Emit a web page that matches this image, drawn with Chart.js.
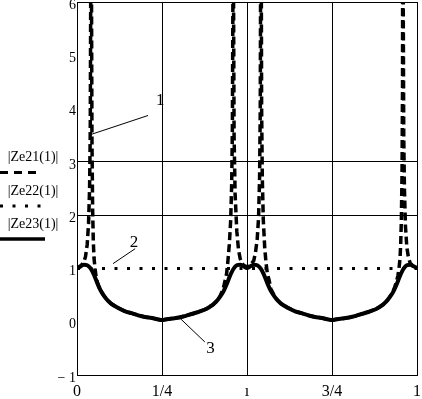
<!DOCTYPE html>
<html>
<head>
<meta charset="utf-8">
<script src="https://cdn.jsdelivr.net/npm/chart.js@4"></script>
<style>
html,body{margin:0;padding:0;background:#fff;}
#wrap{position:relative;width:422px;height:399px;}
</style>
</head>
<body>
<div id="wrap"><canvas id="c" width="422" height="399"></canvas></div>
<script>
// ---- data ----
const xTickValues = [0, 0.25, 0.5, 0.75, 1];
const xTickLabels = ['0', '1/4', 'ı', '3/4', '1'];
const yTickLabels = ['− 1', '0', '1', '2', '3', '4', '5', '6'];
const seriesNames = ['|Ze21(1)|', '|Ze22(1)|', '|Ze23(1)|'];

// |Ze21(1)| (dashed)
const ze21X = [0, 0.01, 0.02, 0.025, 0.03, 0.034, 0.037, 0.039, 0.0405, 0.0415, 0.0425, 0.044, 0.046, 0.048, 0.05, 0.053, 0.056, 0.06, 0.065, 0.07,
  0.08, 0.09, 0.10, 0.12, 0.14, 0.16, 0.18, 0.20, 0.22, 0.24, 0.25, 0.26, 0.28, 0.30, 0.32, 0.34, 0.36, 0.38, 0.40, 0.41, 0.42, 0.43,
  0.44, 0.444, 0.448, 0.452, 0.455, 0.457, 0.4585, 0.4595, 0.4605, 0.462, 0.465, 0.47, 0.475, 0.48, 0.485, 0.49, 0.50,
  0.51, 0.52, 0.525, 0.53, 0.534, 0.537, 0.539, 0.5403, 0.541, 0.5418, 0.543, 0.545, 0.548, 0.552, 0.556, 0.56, 0.565, 0.57, 0.58,
  0.59, 0.60, 0.62, 0.64, 0.66, 0.68, 0.70, 0.72, 0.74, 0.75, 0.76, 0.78, 0.80, 0.82, 0.84, 0.86, 0.88, 0.90, 0.91, 0.92,
  0.93, 0.935, 0.94, 0.944, 0.947, 0.95, 0.952, 0.954, 0.956, 0.9575, 0.9585, 0.9595, 0.961, 0.963, 0.966, 0.97, 0.975, 0.98, 0.99, 1.0];
const ze21Y = [1.00, 1.03, 1.12, 1.22, 1.45, 1.85, 2.5, 3.6, 6.5, 12, 6.5, 3.4, 2.1, 1.5, 1.2, 1.0, 0.85, 0.74, 0.64, 0.58,
  0.48, 0.40, 0.34, 0.26, 0.20, 0.16, 0.12, 0.09, 0.07, 0.04, 0.03, 0.04, 0.06, 0.08, 0.11, 0.15, 0.19, 0.24, 0.32, 0.38, 0.47, 0.62,
  0.9, 1.15, 1.45, 1.9, 2.6, 3.6, 6, 12, 6, 3.5, 2.4, 1.7, 1.35, 1.18, 1.1, 1.06, 1.03,
  1.06, 1.15, 1.3, 1.55, 1.95, 2.7, 4, 7, 12, 7, 4, 2.7, 1.9, 1.4, 1.1, 0.9, 0.78, 0.62, 0.49,
  0.40, 0.34, 0.26, 0.20, 0.16, 0.12, 0.09, 0.07, 0.04, 0.03, 0.04, 0.06, 0.08, 0.11, 0.15, 0.19, 0.24, 0.32, 0.38, 0.47,
  0.58, 0.66, 0.76, 0.87, 1.0, 1.18, 1.45, 1.9, 2.8, 4.5, 12, 6, 3.5, 2.5, 1.8, 1.4, 1.2, 1.1, 1.03, 1.0];

// |Ze22(1)| (dotted)
const ze22X = [0, 0.25, 0.5, 0.75, 1];
const ze22Y = [1, 1, 1, 1, 1];

// |Ze23(1)| (solid)
const ze23X = [0, 0.01, 0.02, 0.03, 0.04, 0.05, 0.06, 0.07, 0.08, 0.09, 0.10, 0.12, 0.14, 0.16, 0.18, 0.20, 0.22, 0.24, 0.25,
  0.26, 0.28, 0.30, 0.32, 0.34, 0.36, 0.38, 0.40, 0.41, 0.42, 0.43, 0.44, 0.45, 0.46, 0.47, 0.48, 0.49, 0.50,
  0.51, 0.52, 0.53, 0.54, 0.55, 0.56, 0.57, 0.58, 0.59, 0.60, 0.62, 0.64, 0.66, 0.68, 0.70, 0.72, 0.74, 0.75,
  0.76, 0.78, 0.80, 0.82, 0.84, 0.86, 0.88, 0.90, 0.91, 0.92, 0.93, 0.94, 0.95, 0.96, 0.97, 0.98, 0.99, 1.0];
const ze23Y = [1.00, 1.04, 1.07, 1.06, 1.00, 0.88, 0.72, 0.58, 0.48, 0.40, 0.34, 0.26, 0.20, 0.16, 0.12, 0.09, 0.07, 0.04, 0.03,
  0.04, 0.06, 0.08, 0.11, 0.15, 0.19, 0.24, 0.32, 0.38, 0.46, 0.56, 0.70, 0.86, 0.99, 1.06, 1.07, 1.04, 1.01,
  1.04, 1.07, 1.06, 1.00, 0.88, 0.72, 0.58, 0.48, 0.40, 0.34, 0.26, 0.20, 0.16, 0.12, 0.09, 0.07, 0.04, 0.03,
  0.04, 0.06, 0.08, 0.11, 0.15, 0.19, 0.24, 0.32, 0.38, 0.46, 0.56, 0.70, 0.86, 0.99, 1.06, 1.07, 1.04, 1.01];

// callout labels: [label, x0, y0, x1, y1, textX, textY] in data units
const callouts = [
  ['1', 0.044, 3.52, 0.209, 3.87, 0.245, 4.15],
  ['2', 0.106, 1.09, 0.171, 1.37, 0.168, 1.48],
  ['3', 0.303, 0.065, 0.376, -0.38, 0.393, -0.5]
];

const pts = (xs, ys) => xs.map((x, i) => ({x: x, y: ys[i]}));
const SERIF = '"Liberation Serif", "DejaVu Serif", serif';

const extras = {
  id: 'extras',
  afterDraw(chart) {
    const ctx = chart.ctx;
    const xs = chart.scales.x, ys = chart.scales.y;
    ctx.save();
    ctx.fillStyle = '#000';
    ctx.strokeStyle = '#000';
    // callouts
    ctx.lineWidth = 1;
    ctx.font = '17px ' + SERIF;
    ctx.textAlign = 'center';
    ctx.textBaseline = 'middle';
    callouts.forEach(c => {
      ctx.beginPath();
      ctx.moveTo(xs.getPixelForValue(c[1]), ys.getPixelForValue(c[2]));
      ctx.lineTo(xs.getPixelForValue(c[3]), ys.getPixelForValue(c[4]));
      ctx.stroke();
      ctx.fillText(c[0], xs.getPixelForValue(c[5]), ys.getPixelForValue(c[6]));
    });
    // legend (left side)
    ctx.font = '14px ' + SERIF;
    const rows = [
      {ty: 157, ly: 172.5, len: 37, dash: [8, 6], w: 3},
      {ty: 191, ly: 206, len: 42, dash: [3, 9.5], w: 3},
      {ty: 224, ly: 239, len: 45, dash: [], w: 3.5}
    ];
    rows.forEach((r, i) => {
      ctx.textAlign = 'center';
      ctx.fillText(seriesNames[i], 33, r.ty);
      ctx.beginPath();
      ctx.setLineDash(r.dash);
      ctx.lineWidth = r.w;
      ctx.lineCap = 'butt';
      ctx.moveTo(0, r.ly);
      ctx.lineTo(r.len, r.ly);
      ctx.stroke();
    });
    ctx.setLineDash([]);
    ctx.restore();
  }
};

new Chart(document.getElementById('c'), {
  type: 'line',
  data: {
    datasets: [
      {label: seriesNames[0], data: pts(ze21X, ze21Y), borderColor: '#000', borderWidth: 3.5, borderDash: [8, 4], pointRadius: 0, tension: 0, fill: false},
      {label: seriesNames[1], data: pts(ze22X, ze22Y), borderColor: '#000', borderWidth: 3, borderDash: [3, 9.5], pointRadius: 0, tension: 0, fill: false},
      {label: seriesNames[2], data: pts(ze23X, ze23Y), borderColor: '#000', borderWidth: 4, pointRadius: 0, cubicInterpolationMode: 'monotone', fill: false}
    ]
  },
  options: {
    responsive: false,
    animation: false,
    devicePixelRatio: 1,
    layout: {padding: {left: 0, right: 5, top: 2, bottom: 0}},
    plugins: {legend: {display: false}, tooltip: {enabled: false}},
    scales: {
      x: {
        type: 'linear', min: 0, max: 1,
        afterFit: s => { s.height = 24; s.paddingLeft = 0; s.paddingRight = 0; },
        afterBuildTicks: s => { s.ticks = xTickValues.map(v => ({value: v})); },
        ticks: {
          autoSkip: false, maxRotation: 0, padding: 7, color: '#000',
          font: {family: SERIF, size: 16},
          callback: (v) => { const i = xTickValues.indexOf(v); return i >= 0 ? xTickLabels[i] : ''; }
        },
        grid: {
          drawTicks: false, tickLength: 0, lineWidth: 1,
          color: c => ([0.25, 0.5, 0.75, 1].includes(c.tick && c.tick.value) ? '#000' : 'rgba(0,0,0,0)')
        },
        border: {display: true, color: '#000', width: 1}
      },
      y: {
        type: 'linear', min: -1, max: 6,
        afterFit: s => { s.width = 77; s.paddingTop = 0; s.paddingBottom = 0; },
        ticks: {
          stepSize: 1, padding: 1, labelOffset: 3, color: '#000',
          font: {family: SERIF, size: 14},
          callback: (v) => { const i = Math.round(v) + 1; return yTickLabels[i] !== undefined ? yTickLabels[i] : ''; }
        },
        grid: {
          drawTicks: false, tickLength: 0, lineWidth: 1,
          color: c => ([2, 3, 6].includes(c.tick && c.tick.value) ? '#000' : 'rgba(0,0,0,0)')
        },
        border: {display: true, color: '#000', width: 1}
      }
    }
  },
  plugins: [extras]
});
</script>
</body>
</html>
